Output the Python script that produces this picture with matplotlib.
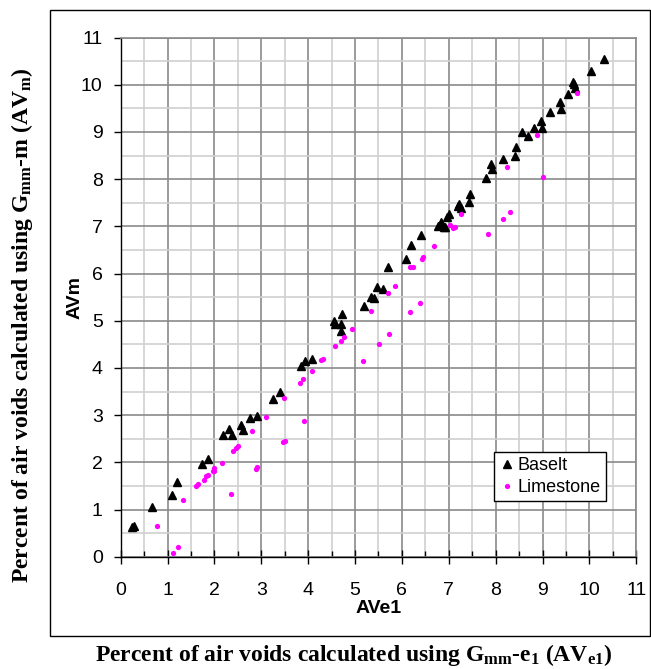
import matplotlib
matplotlib.use("Agg")
import matplotlib.pyplot as plt
from matplotlib.patches import Rectangle
from matplotlib.ticker import MultipleLocator

# ---- data ----
basalt_x = [10.31, 10.04, 9.64, 9.67, 9.69, 9.54, 9.37, 9.39, 9.16, 8.96, 8.99, 8.81,
            8.56, 8.68, 8.43, 8.41, 8.16, 7.91, 7.93, 7.80, 7.45, 7.43, 7.22, 7.27,
            7.19, 7.01, 6.96, 6.84, 6.81, 6.89, 6.77, 6.92, 6.40, 6.20, 6.08, 5.71,
            5.47, 5.59, 5.35, 5.41, 5.20, 4.72, 4.55, 4.58, 4.70, 4.71, 4.09, 3.93,
            3.84, 3.40, 3.25, 2.90, 2.76, 2.57, 2.61, 2.19, 2.31, 2.37, 1.74, 1.87,
            1.21, 1.09, 0.67, 0.25, 0.28]
basalt_y = [10.54, 10.28, 10.06, 10.01, 9.94, 9.80, 9.64, 9.48, 9.42, 9.23, 9.09, 9.08,
            9.00, 8.92, 8.69, 8.50, 8.42, 8.32, 8.21, 8.02, 7.68, 7.52, 7.47, 7.38,
            7.43, 7.26, 7.19, 7.10, 7.03, 6.99, 7.01, 6.98, 6.82, 6.60, 6.31, 6.13,
            5.71, 5.67, 5.51, 5.49, 5.31, 5.14, 4.99, 4.94, 4.92, 4.78, 4.18, 4.15,
            4.05, 3.48, 3.34, 2.99, 2.94, 2.78, 2.68, 2.58, 2.71, 2.57, 1.96, 2.08,
            1.59, 1.31, 1.05, 0.62, 0.65]

lime_x = [9.74, 8.89, 8.24, 9.02, 8.30, 8.15, 7.26, 7.02, 7.08, 7.13, 7.83, 6.69,
          6.44, 6.42, 6.18, 6.24, 5.85, 5.71, 6.39, 6.18, 5.34, 5.72, 5.51, 4.94,
          4.77, 4.69, 4.58, 5.17, 4.31, 4.27, 4.08, 3.89, 3.82, 3.48, 3.91, 3.09,
          2.80, 2.50, 2.46, 2.39, 2.17, 2.00, 1.96, 2.00, 1.87, 1.83, 1.78, 1.65,
          1.61, 2.91, 2.88, 2.35, 1.33, 0.78, 1.22, 1.12, 3.47, 3.50]
lime_y = [9.83, 8.93, 8.26, 8.05, 7.31, 7.15, 7.26, 7.03, 6.96, 6.99, 6.84, 6.58,
          6.34, 6.30, 6.14, 6.14, 5.74, 5.58, 5.37, 5.18, 5.21, 4.72, 4.51, 4.82,
          4.66, 4.57, 4.46, 4.15, 4.19, 4.17, 3.93, 3.76, 3.69, 3.36, 2.88, 2.96,
          2.66, 2.35, 2.30, 2.25, 1.98, 1.87, 1.82, 1.82, 1.74, 1.70, 1.62, 1.54,
          1.49, 1.89, 1.86, 1.32, 1.21, 0.66, 0.20, 0.08, 2.44, 2.46]

ticks = list(range(0, 12))

plt.rcParams["mathtext.fontset"] = "custom"
plt.rcParams["mathtext.rm"] = "Liberation Serif:bold"
plt.rcParams["mathtext.it"] = "Liberation Serif:bold"
plt.rcParams["mathtext.bf"] = "Liberation Serif:bold"

W, H = 651, 669
fig = plt.figure(figsize=(W / 100, H / 100), dpi=100)

# outer chart-area frame
fig.patches.append(Rectangle((49.5 / W, 1 - 635.5 / H), (650 - 49.5) / W, (635.5 - 9.5) / H,
                             transform=fig.transFigure, fill=False, edgecolor="black",
                             linewidth=1.0))

left, right = 120.7 / W, 636.3 / W
bottom, top = 1 - 556.7 / H, 1 - 37.5 / H
ax = fig.add_axes([left, bottom, right - left, top - bottom])

ax.set_xlim(0, 11)
ax.set_ylim(0, 11)
ax.xaxis.set_minor_locator(MultipleLocator(0.5))
ax.yaxis.set_minor_locator(MultipleLocator(0.5))
ax.set_xticks(ticks)
ax.set_yticks(ticks)

ax.grid(which="minor", color="#d0d0d0", linewidth=1.2, zorder=0)
ax.grid(which="major", color="#8a8a8a", linewidth=1.2, zorder=0)
ax.set_axisbelow(True)

for s in ["top", "right"]:
    ax.spines[s].set_color("#8a8a8a")
    ax.spines[s].set_linewidth(1.2)
for s in ["left", "bottom"]:
    ax.spines[s].set_color("black")
    ax.spines[s].set_linewidth(1.0)

ax.tick_params(axis="x", which="major", direction="inout", length=10, width=1, pad=13,
               labelsize=14)
ax.tick_params(axis="x", which="minor", direction="in", length=4.5, width=1)
ax.tick_params(axis="y", which="major", direction="out", length=5, width=1, pad=8,
               labelsize=14)
ax.tick_params(axis="y", which="minor", length=0)
for lab in ax.get_xticklabels() + ax.get_yticklabels():
    lab.set_family("Liberation Sans")

ax.plot(basalt_x, basalt_y, linestyle="none", marker="^", markersize=5.3,
        color="black", label="Baselt", zorder=3, clip_on=False)
ax.plot(lime_x, lime_y, linestyle="none", marker="o", markersize=3.8,
        color="#ff00ff", markeredgewidth=0, label="Limestone", zorder=3, clip_on=False)

ax.set_xlabel("AVe1", fontsize=14, fontweight="bold", family="Liberation Sans",
              labelpad=1)
ax.set_ylabel("AVm", fontsize=14, fontweight="bold", family="Liberation Sans",
              labelpad=-2)

leg = ax.legend(loc="upper left", bbox_to_anchor=((494 - 120.7) / (636.3 - 120.7),
                                                 (556.7 - 452) / (556.7 - 37.5)),
                prop=dict(family="Liberation Sans", size=13), frameon=True,
                fancybox=False, edgecolor="black", framealpha=1, borderpad=0.3,
                handlelength=0.8, handletextpad=0.2, labelspacing=0.25,
                borderaxespad=0)
leg.get_frame().set_linewidth(1.0)

fig.text(354 / W, 1 - 655 / H,
         r"Percent of air voids calculated using G$_{\mathrm{mm}}$-e$_{\mathrm{1}}$ (AV$_{\mathrm{e1}}$)",
         ha="center", va="center", fontsize=17, fontweight="bold",
         family="Liberation Serif")
fig.text(22 / W, 1 - 325 / H,
         r"Percent of air voids calculated using G$_{\mathrm{mm}}$-m (AV$_{\mathrm{m}}$)",
         ha="center", va="center", rotation=90, fontsize=17, fontweight="bold",
         family="Liberation Serif")

fig.savefig("out.png", dpi=100)
